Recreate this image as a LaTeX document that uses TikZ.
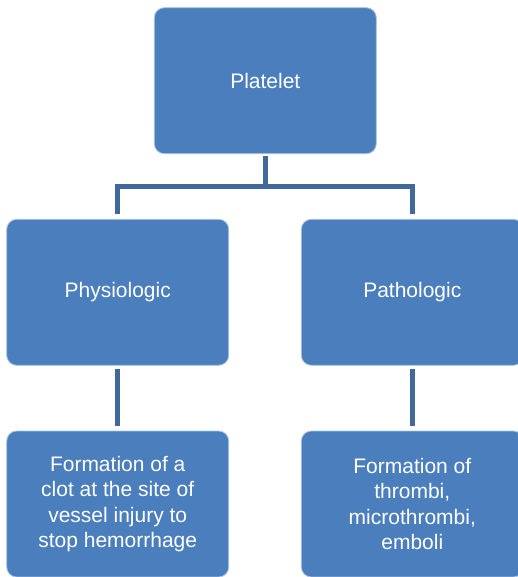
\documentclass[tikz,border=0pt]{standalone}
\usepackage{fontspec}
\setmainfont{Liberation Sans}
\definecolor{boxblue}{RGB}{74,126,188}
\definecolor{linkblue}{RGB}{64,104,154}
\begin{document}
\begin{tikzpicture}[x=1pt,y=-1pt,
  card/.style={rectangle, rounded corners=10pt, fill=boxblue,
    draw=white!55!boxblue, line width=0.8pt,
    minimum width=222pt, minimum height=146pt, inner sep=0pt,
    align=center, text=white,
    font=\fontsize{21}{25.6}\selectfont},
  link/.style={draw=linkblue, line width=4.5pt}]
  \useasboundingbox (0,0) rectangle (517,577);

  % boxes
  \node[card] (top)  at (265.3,80.7)  {Platelet};
  \node[card] (phys) at (117.7,292.3) {Physiologic};
  \node[card] (path) at (412.3,292.3) {Pathologic};
  \node[card] (physout) at (117.7,504) {Formation of a\\clot at the site of\\vessel injury to\\stop hemorrhage};
  \node[card] (pathout) at (412.3,504) {Formation of\\thrombi,\\microthrombi,\\emboli};

  % branching connector
  \coordinate (bar) at (0,186.5);
  \draw[link, shorten <=2pt] (top.south) -- (top.south |- bar);
  \draw[link, shorten <=5pt, shorten >=5pt]
    (phys.north) -- (phys.north |- bar) -- (path.north |- bar) -- (path.north);

  % straight links to the outcome boxes
  \draw[link, shorten <=3pt, shorten >=5pt] (phys.south) -- (physout.north);
  \draw[link, shorten <=3pt, shorten >=5pt] (path.south) -- (pathout.north);
\end{tikzpicture}
\end{document}
